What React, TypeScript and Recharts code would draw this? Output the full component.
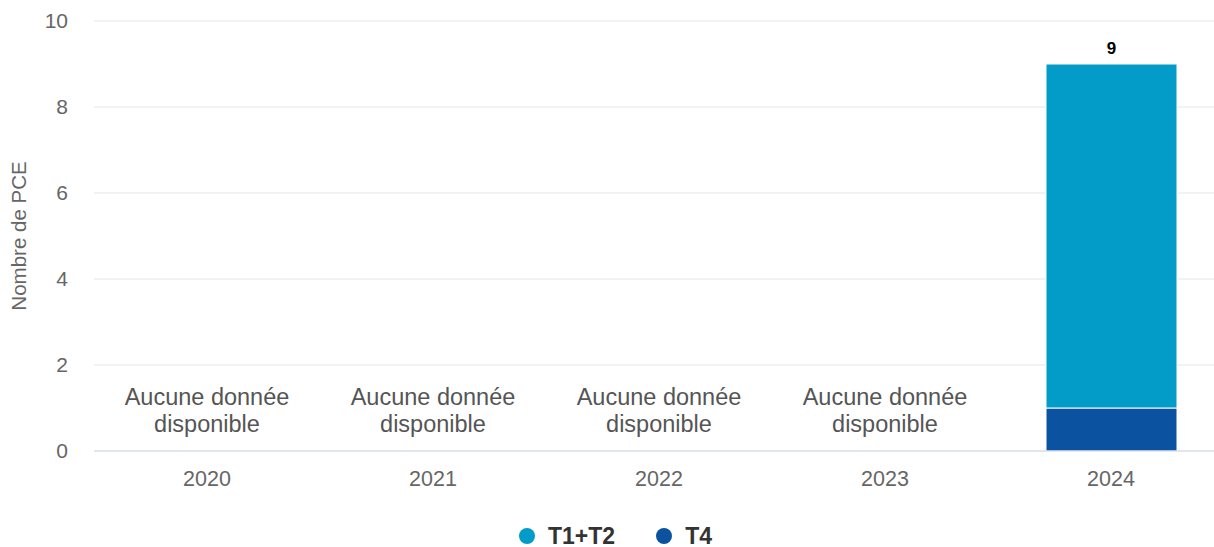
import React from "react";
import { BarChart, Bar, XAxis, YAxis, CartesianGrid, LabelList, ReferenceDot } from "recharts";

const categories = ["2020", "2021", "2022", "2023", "2024"];
const t4Values: (number | null)[] = [null, null, null, null, 1];
const t12Values: (number | null)[] = [null, null, null, null, 8];
const totals: (number | null)[] = [null, null, null, null, 9];
const noDataCategories = ["2020", "2021", "2022", "2023"];
const yTicks = [0, 2, 4, 6, 8, 10];
const noDataText = ["Aucune donnée", "disponible"];

const COLOR_T12 = "#039BC7";
const COLOR_T4 = "#0B53A0";
const FONT = "'Liberation Sans', Arial, Helvetica, sans-serif";

const data = categories.map((c, i) => ({
  year: c,
  t4: t4Values[i],
  t12: t12Values[i],
  total: totals[i],
}));

const legendItems = [
  { name: "T1+T2", color: COLOR_T12 },
  { name: "T4", color: COLOR_T4 },
];

const NoDataLabel = (props: any) => {
  const vb = props.viewBox || {};
  const cx = vb.x + (vb.width || 0) / 2;
  const cy = vb.y + (vb.height || 0) / 2;
  return (
    <text x={cx} y={cy} textAnchor="middle" fill="#555555" fontSize={23.5} fontFamily={FONT}>
      <tspan x={cx} y={cy - 3}>{noDataText[0]}</tspan>
      <tspan x={cx} y={cy + 24}>{noDataText[1]}</tspan>
    </text>
  );
};

export default function App() {
  return (
    <div style={{ position: "absolute", left: 0, top: 0, width: 1214, height: 547, overflow: "hidden", background: "#fff", fontFamily: FONT }}>
      <BarChart
        width={1224}
        height={547}
        data={data}
        margin={{ top: 21, right: 0, bottom: 66, left: 0 }}
        barSize={131}
      >
        <CartesianGrid vertical={false} stroke="#e6e6e6" />
        <XAxis
          dataKey="year"
          axisLine={{ stroke: "#ccd6eb" }}
          tickLine={false}
          tick={{ fill: "#666666", fontSize: 21.5, fontFamily: FONT }}
          tickMargin={14}
          height={30}
        />
        <YAxis
          width={94}
          domain={[0, 10]}
          ticks={yTicks}
          axisLine={false}
          tickLine={false}
          tickMargin={20}
          tick={{ fill: "#666666", fontSize: 21, fontFamily: FONT }}
          label={{
            value: "Nombre de PCE",
            angle: -90,
            position: "insideLeft",
            dx: 14,
            style: { fill: "#666666", fontSize: 20.5, fontFamily: FONT, textAnchor: "middle" },
          }}
        />
        <Bar dataKey="t4" stackId="a" fill={COLOR_T4} stroke="#ffffff" strokeWidth={1} isAnimationActive={false} />
        <Bar dataKey="t12" stackId="a" fill={COLOR_T12} stroke="#ffffff" strokeWidth={1} isAnimationActive={false}>
          <LabelList dataKey="total" position="top" offset={10} style={{ fill: "#000000", fontSize: 17, fontWeight: 700, fontFamily: FONT }} />
        </Bar>
        {noDataCategories.map((c) => (
          <ReferenceDot key={c} x={c} y={1} r={0} stroke="none" fill="none" label={<NoDataLabel />} />
        ))}
      </BarChart>
      <div style={{ position: "absolute", top: 523, left: 519, display: "flex", alignItems: "center", height: 26 }}>
        {legendItems.map((it, i) => (
          <div key={it.name} style={{ display: "flex", alignItems: "center", marginRight: i === 0 ? 41 : 0 }}>
            <span style={{ display: "inline-block", width: 16, height: 16, borderRadius: 8, background: it.color, marginRight: 13 }} />
            <span style={{ fontSize: 23, fontWeight: 700, color: "#333333", fontFamily: FONT }}>{it.name}</span>
          </div>
        ))}
      </div>
    </div>
  );
}
